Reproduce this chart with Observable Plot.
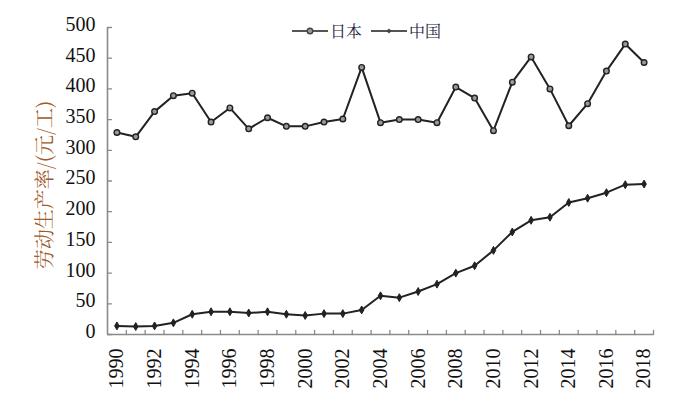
<!DOCTYPE html>
<html><head><meta charset="utf-8">
<script src="https://cdn.jsdelivr.net/npm/d3@7"></script>
<script src="https://cdn.jsdelivr.net/npm/@observablehq/plot@0.6"></script>
<style>
body{margin:0;background:#fff;}
#wrap{position:relative;width:679px;height:395px;}
#legend{position:absolute;left:292px;top:21px;display:flex;align-items:center;font-family:"Noto Serif CJK SC","Noto Sans CJK SC",sans-serif;font-size:16px;color:#1a1a40;line-height:20px;}
#legend .item{display:flex;align-items:center;margin-right:9px;}
#legend svg{display:block;margin-right:2px;}
</style></head><body>
<div id="wrap"><div id="legend"></div></div>
<script>
const years = [1990,1991,1992,1993,1994,1995,1996,1997,1998,1999,2000,2001,2002,2003,2004,2005,2006,2007,2008,2009,2010,2011,2012,2013,2014,2015,2016,2017,2018];
const japan = [329,322,363,389,393,346,369,335,353,339,339,346,351,435,345,350,350,345,403,385,332,411,452,400,340,376,429,473,443];
const china = [14,13,14,19,33,37,37,35,37,33,31,34,34,40,63,60,70,82,100,112,137,167,186,191,215,222,231,244,245];
const xTickLabels = [1990,1992,1994,1996,1998,2000,2002,2004,2006,2008,2010,2012,2014,2016,2018];
const yTicks = [0,50,100,150,200,250,300,350,400,450,500];
const seriesNames = ["日本","中国"];
const yLabel = "劳动生产率/(元/工)";

const rowsJ = years.map((yr,i)=>({year:yr, value:japan[i], s:seriesNames[0]}));
const rowsC = years.map((yr,i)=>({year:yr, value:china[i], s:seriesNames[1]}));
const rows = rowsJ.concat(rowsC);
const xMin = years[0]-0.5, xMax = years[years.length-1]+0.5;
const bounds = d3.range(xMin+1, xMax+0.01, 1);

const axisColor = "#8a8a8a";
const tickShape = {draw(ctx, l){ ctx.moveTo(0,0); ctx.lineTo(0,-l); }};

const chart = Plot.plot({
  width: 679, height: 395,
  marginLeft: 107, marginRight: 26, marginTop: 27, marginBottom: 61,
  x: {domain: [xMin, xMax]},
  y: {domain: [0, 500]},
  style: {background: "transparent", color: "#111"},
  marks: [
    Plot.axisY({ticks: yTicks, tickSize: 0, tickPadding: 12, fontSize: 20, fontFamily: "Liberation Serif", dy: -3, label: null, fill: "#111"}),
    Plot.axisX({ticks: xTickLabels, tickSize: 0, tickRotate: -90, tickPadding: 14, fontSize: 20, fontFamily: "Liberation Serif", tickFormat: d => String(d), label: null, fill: "#111"}),
    Plot.ruleX([xMin], {stroke: axisColor, strokeWidth: 1.6}),
    Plot.ruleY([0], {stroke: axisColor, strokeWidth: 1.6}),
    Plot.vector(yTicks, {x: () => xMin, y: d => d, length: 4, rotate: 90, anchor: "start", shape: tickShape, stroke: axisColor, strokeWidth: 1.3}),
    Plot.vector(bounds, {x: d => d, y: () => 0, length: 4, rotate: 0, anchor: "start", shape: tickShape, stroke: axisColor, strokeWidth: 1.3}),
    Plot.line(rows, {x: "year", y: "value", z: "s", stroke: "#222", strokeWidth: 2}),
    Plot.dot(rowsJ, {x: "year", y: "value", symbol: "circle", r: 2.8, fill: "#9a9a9a", stroke: "#222", strokeWidth: 1.4}),
    Plot.dot(rowsC, {x: "year", y: "value", symbol: "diamond", r: 2.4, fill: "#222", stroke: "#222", strokeWidth: 1}),
    Plot.text([yLabel], {frameAnchor: "left", textAnchor: "middle", lineAnchor: "middle", rotate: -90, dx: -62, dy: 4, fontSize: 20, fontFamily: "Noto Serif CJK SC, Noto Sans CJK SC, sans-serif", fill: "#a0592a"})
  ]
});
const wrap = document.getElementById("wrap");
wrap.insertBefore(chart, wrap.firstChild);

const legend = document.getElementById("legend");
seriesNames.forEach((name, i) => {
  const item = document.createElement("div");
  item.className = "item";
  const marker = i === 0
    ? '<circle cx="18" cy="10" r="2.8" fill="#9a9a9a" stroke="#444" stroke-width="1.4"/>'
    : '<path d="M18,7.5 L20.5,10 L18,12.5 L15.5,10 Z" fill="#444"/>';
  item.innerHTML = '<svg width="36" height="20"><line x1="0" x2="36" y1="10" y2="10" stroke="#555" stroke-width="2"/>' + marker + '</svg><span>' + name + '</span>';
  legend.appendChild(item);
});
</script>
</body></html>
